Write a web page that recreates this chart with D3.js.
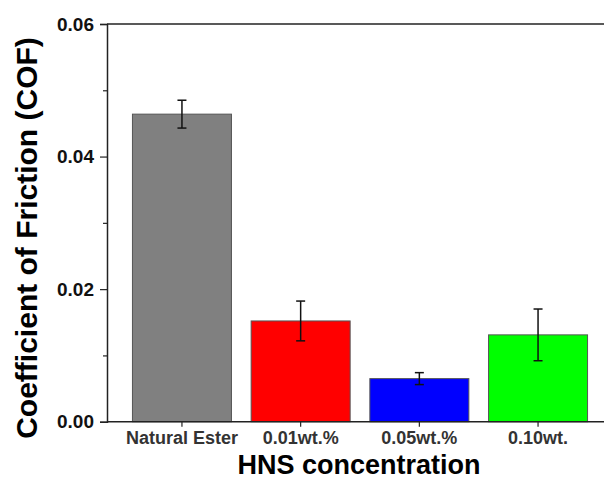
<!DOCTYPE html>
<html>
<head>
<meta charset="utf-8">
<script src="https://cdn.jsdelivr.net/npm/d3@7/dist/d3.min.js"></script>
<style>
  html, body { margin: 0; padding: 0; background: #fff; }
  svg { display: block; }
  text { font-family: "Liberation Sans", Arial, sans-serif; font-weight: bold; }
</style>
</head>
<body>
<svg id="chart" width="604" height="479"></svg>
<script>
const categories = ["Natural Ester", "0.01wt.%", "0.05wt.%", "0.10wt."];
const cofMeans = [0.0464, 0.0152, 0.0065, 0.0131];
const cofErrors = [0.0021, 0.0030, 0.0009, 0.0039];
const barColors = ["#808080", "#ff0000", "#0000ff", "#00ff00"];
const yMajorTicks = [0, 0.02, 0.04, 0.06];
const yMinorTicks = [0.01, 0.03, 0.05];
const xTitle = "HNS concentration";
const yTitle = "Coefficient of Friction (COF)";

const svg = d3.select("#chart");
const axisLeftX = 107, plotRight = 604, plotTop = 24, plotBottom = 421.7;

const y = d3.scaleLinear().domain([0, 0.06]).range([plotBottom, plotTop]);
const x = d3.scaleBand().domain(categories)
  .range([122.6, 597.4]).paddingInner(0.166).paddingOuter(0.083);

const data = categories.map((c, i) => ({ c, v: cofMeans[i], e: cofErrors[i], col: barColors[i] }));

// bars
svg.append("g").selectAll("rect").data(data).join("rect")
  .attr("x", d => x(d.c))
  .attr("y", d => y(d.v))
  .attr("width", x.bandwidth())
  .attr("height", d => y(0) - y(d.v))
  .attr("fill", d => d.col)
  .attr("stroke", "#555")
  .attr("stroke-width", 1);

// error bars
const eg = svg.append("g").attr("stroke", "#111").attr("stroke-width", 1.5);
data.forEach(d => {
  const cx = x(d.c) + x.bandwidth() / 2;
  eg.append("line").attr("x1", cx).attr("x2", cx).attr("y1", y(d.v + d.e)).attr("y2", y(d.v - d.e));
  eg.append("line").attr("x1", cx - 4.5).attr("x2", cx + 4.5).attr("y1", y(d.v + d.e)).attr("y2", y(d.v + d.e));
  eg.append("line").attr("x1", cx - 4.5).attr("x2", cx + 4.5).attr("y1", y(d.v - d.e)).attr("y2", y(d.v - d.e));
});

// y axis
const yAxis = svg.append("g").attr("transform", `translate(${axisLeftX},0)`)
  .call(d3.axisLeft(y).tickValues(yMajorTicks).tickFormat(d3.format(".2f")).tickSize(7).tickPadding(6));
yAxis.select(".domain").attr("stroke", "#222").attr("stroke-width", 1.5);
yAxis.selectAll(".tick line").attr("stroke", "#222").attr("stroke-width", 1.2);
yAxis.selectAll(".tick text").attr("fill", "#111").style("font-size", "19px")
  .style("font-family", "'Liberation Sans', Arial, sans-serif").style("font-weight", "bold");
const yMinor = svg.append("g").attr("transform", `translate(${axisLeftX},0)`)
  .call(d3.axisLeft(y).tickValues(yMinorTicks).tickFormat("").tickSize(4));
yMinor.select(".domain").remove();
yMinor.selectAll(".tick line").attr("stroke", "#222").attr("stroke-width", 1.2);

// x axis
const xAxis = svg.append("g").attr("transform", `translate(0,${plotBottom})`)
  .call(d3.axisBottom(x).tickSize(5).tickPadding(5));
xAxis.select(".domain").remove();
xAxis.selectAll(".tick line").attr("stroke", "#222").attr("stroke-width", 1.2);
xAxis.selectAll(".tick text").attr("fill", "#333").style("font-size", "18px")
  .style("font-family", "'Liberation Sans', Arial, sans-serif").style("font-weight", "bold");
svg.append("line").attr("x1", axisLeftX).attr("x2", plotRight).attr("y1", plotBottom).attr("y2", plotBottom)
  .attr("stroke", "#222").attr("stroke-width", 1.5);

// top frame line
svg.append("line").attr("x1", axisLeftX).attr("x2", plotRight).attr("y1", plotTop).attr("y2", plotTop)
  .attr("stroke", "#222").attr("stroke-width", 1.5);

// titles
svg.append("text").attr("x", 359).attr("y", 473.5).attr("text-anchor", "middle")
  .attr("fill", "#000").style("font-size", "27px").text(xTitle);
svg.append("text").attr("transform", "translate(37,238) rotate(-90)").attr("text-anchor", "middle")
  .attr("fill", "#000").style("font-size", "30px").text(yTitle);
</script>
</body>
</html>
